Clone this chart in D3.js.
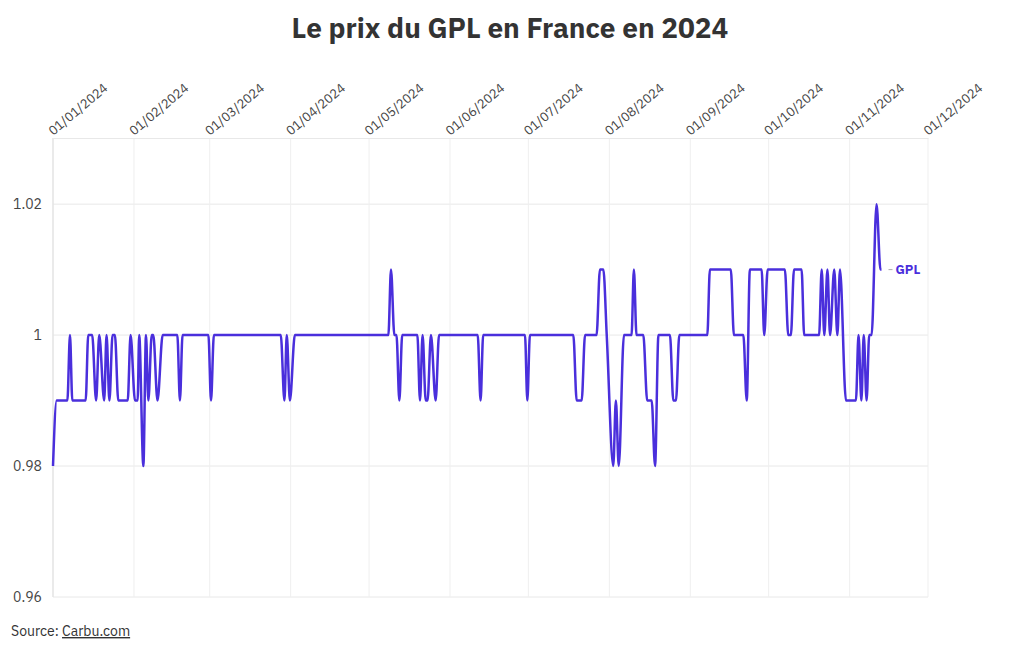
<!DOCTYPE html><html><head><meta charset="utf-8">
<script src="https://cdn.jsdelivr.net/npm/d3@7"></script>
<style>body{margin:0;background:#fff;font-family:"IBM Plex Sans",Inter,Roboto,sans-serif}</style></head><body>
<svg id="c" width="1020" height="650"></svg>
<script>
const title = "Le prix du GPL en France en 2024";
const seriesName = "GPL";
// days since 01/01/2024
const days = [0,1.4,5.5,6.5,7.4,12.5,13.5,15,16.5,17.7,19.6,20.5,21.6,22.8,23.7,25,28.6,29.7,31.4,32.4,33,34.6,35.6,36.5,37.8,38.4,40,42,47.6,48.6,49.6,59.5,60.5,61.6,87.2,88.6,89.5,90.7,92.6,128.4,129.4,130.7,131.5,132.6,133.7,139.5,140.5,141.5,142.7,143.4,144.7,146.5,147.8,162.6,163.7,164.7,180.7,181.6,182.6,199.2,200.5,202.4,203.7,208.1,209.4,210.7,212,214.5,215.5,216.6,218.6,221.5,222.4,223.4,226,227.5,229.2,230.5,231.8,236.2,237.5,238.5,239.8,250.5,251.5,259.5,260.7,264.3,265.6,266.8,271.3,272.3,273.6,280.2,281.5,282.5,283.7,286.6,287.6,293.3,294.3,295.3,296.5,297.5,299.1,300.3,301.3,303.6,307.4,308.4,309.5,310.4,311.5,312.5,313.4,315.3,316.8,317.2];
const prices = [.98,.99,.99,1,.99,.99,1,1,.99,1,.99,1,.99,1,1,.99,.99,1,.99,.99,1,.98,1,.99,1,1,.99,1,1,.99,1,1,.99,1,1,.99,1,.99,1,1,1.01,1,1,.99,1,1,.99,1,.99,.99,1,.99,1,1,.99,1,1,.99,1,1,.99,.99,1,1,1.01,1.01,1,.98,.99,.98,1,1,1.01,1,1,.99,.99,.98,1,1,.99,.99,1,1,1.01,1.01,1,1,.99,1.01,1.01,1,1.01,1.01,1,1,1.01,1.01,1,1,1.01,1,1.01,1,1.01,1,1.01,.99,.99,1,.99,1,.99,1,1,1.02,1.01,1.01];
const yTicks = [0.96,0.98,1,1.02];
const monthTicks = ["2024-01-01","2024-02-01","2024-03-01","2024-04-01","2024-05-01","2024-06-01","2024-07-01","2024-08-01","2024-09-01","2024-10-01","2024-11-01","2024-12-01"];
const sourceLabel = "Source: ", sourceLink = "Carbu.com";

const color = "#4a2fdc";
const svg = d3.select("#c");
const L=53,R=928,T=138,B=597;
const t0 = Date.UTC(2024,0,1);
const data = days.map((d,i)=>({date:new Date(t0+d*864e5), v:prices[i]}));
const ticks = monthTicks.map(s=>new Date(s+"T00:00:00Z"));
const x = d3.scaleUtc().domain([ticks[0],ticks[ticks.length-1]]).range([L,R]);
const y = d3.scaleLinear().domain([0.96,1.0301]).range([B,T]);

svg.append("text").attr("x",510).attr("y",38).attr("text-anchor","middle")
 .attr("font-size",28).attr("font-weight",700).attr("fill","#333").text(title);

svg.append("g").selectAll("line").data(yTicks).join("line")
 .attr("x1",L).attr("x2",R).attr("y1",d=>y(d)).attr("y2",d=>y(d)).attr("stroke","#e8e8e8");
svg.append("g").selectAll("line").data(ticks).join("line")
 .attr("x1",d=>x(d)).attr("x2",d=>x(d)).attr("y1",T).attr("y2",B).attr("stroke","#efefef");
svg.append("line").attr("x1",L).attr("x2",L).attr("y1",T).attr("y2",B).attr("stroke","#ddd");

const fmt = d3.utcFormat("%d/%m/%Y");
const xa = svg.append("g").attr("transform",`translate(0,${T})`)
 .call(d3.axisTop(x).tickValues(ticks).tickFormat(fmt).tickSize(0).tickPadding(8));
xa.select(".domain").attr("stroke","#e8e8e8");
xa.selectAll("text").attr("font-size",13).attr("fill","#444").attr("font-family","IBM Plex Sans,Inter,Roboto,sans-serif")
 .attr("text-anchor","start").attr("transform","translate(-2,-4) rotate(-40)").attr("dy","0.35em").attr("dx","0").attr("y",-2);

svg.append("g").selectAll("text").data(yTicks).join("text")
 .attr("x",42).attr("y",d=>y(d)).attr("dy","0.35em").attr("text-anchor","end")
 .attr("font-size",14).attr("fill","#444").text(d=>d===1?"1":d3.format(".2f")(d));

svg.append("path").datum(data).attr("fill","none").attr("stroke",color).attr("stroke-width",2.5)
 .attr("stroke-linejoin","round")
 .attr("d",d3.line().x(d=>x(d.date)).y(d=>y(d.v)).curve(d3.curveMonotoneX));

const last = data[data.length-1];
svg.append("line").attr("x1",x(last.date)+7).attr("x2",x(last.date)+11).attr("y1",y(last.v)).attr("y2",y(last.v)).attr("stroke","#aaa");
svg.append("text").attr("x",x(last.date)+14).attr("y",y(last.v)).attr("dy","0.35em")
 .attr("font-size",13).attr("font-weight",700).attr("fill",color).text(seriesName);

const s = svg.append("text").attr("x",11).attr("y",636).attr("font-size",14).attr("fill","#333");
s.append("tspan").text(sourceLabel);
s.append("tspan").attr("text-decoration","underline").text(sourceLink);
</script></body></html>
